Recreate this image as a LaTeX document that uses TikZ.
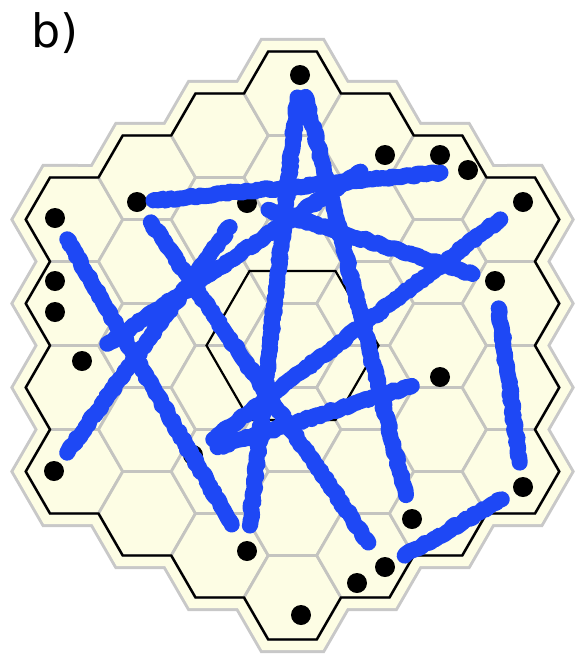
\documentclass[tikz,border=0pt]{standalone}
\usepackage{fontspec}
\setsansfont{DejaVu Sans}
\usetikzlibrary{calc,decorations.pathmorphing}

% board outline: six rotated copies of one zigzag side
\newcommand\boardpath{(94.72:6.083*\hexs)
  \foreach \k in {0,-60,...,-300}{
    -- (\k+94.72:6.083*\hexs) -- (\k+85.28:6.083*\hexs)
    -- (\k+79.11:5.2915*\hexs) -- (\k+68.95:5.568*\hexs)
    -- (\k+60:5*\hexs) -- (\k+51.05:5.568*\hexs)
    -- (\k+40.89:5.2915*\hexs)} -- cycle}

\begin{document}
\begin{tikzpicture}[x=0.5pt,y=-0.5pt,
  dot/.style={circle,fill=black,inner sep=0pt,minimum size=10pt},
  cell/.style={draw=cgrid,fill=ccell,line width=1.4pt,line join=round},
  crayon/.style={draw=cblue,line width=8pt,line cap=round,line join=round,
    decorate,decoration={random steps,segment length=1.6pt,amplitude=0.7pt}}]
\definecolor{ccell}{RGB}{253,253,228}\definecolor{cgrid}{RGB}{196,196,192}
\definecolor{crim}{RGB}{200,200,200}\definecolor{cblue}{RGB}{30,72,245}
\def\hexs{48.5}\def\hexh{84.0}
\useasboundingbox (0,0) rectangle (575,660);
\node[font=\sffamily\fontsize{23}{27}\selectfont,anchor=base west,inner sep=0pt] (lbl) at (31,47) {b)};
% ===== board: rim, cells, outline =====
\begin{scope}[shift={(292.5,345.5)}]
\draw[crim,line width=13.5pt,miter limit=4] \boardpath;
\draw[ccell,line width=10.5pt,miter limit=4] \boardpath;
\foreach \q in {-3,...,3}{
  \foreach \r in {-3,...,3}{
    \pgfmathtruncatemacro\qr{abs(\q+\r)}
    \ifnum\qr<4
      \draw[cell,shift={({1.5*\hexs*\q},{\hexh*(\r+\q/2)})}]
        (0:\hexs) -- (60:\hexs) -- (120:\hexs) -- (180:\hexs) -- (240:\hexs) -- (300:\hexs) -- cycle;
    \fi}}
\draw[black,line width=1.2pt,line join=miter] \boardpath;
% inner hexagon
\draw[black,line width=1.1pt] (0:86) -- (60:86) -- (120:86) -- (180:86) -- (240:86) -- (300:86) -- cycle;
\end{scope}
% ===== stones =====
\foreach \n/\x/\y in {d1/300/75,d2/385/155,d3/440/155,d4/468/170,d5/523/202,
  d6/55/218,d7/137/202,d8/247/203,d9/55/281,d10/55/312,d11/82/361,
  d12/440/377,d13/495/281,d14/193/455,d15/54/471,d16/523/487,d17/412/519,
  d18/247/551,d19/385/567,d20/357/583,d21/301/615}
  \node[dot] (\n) at (\x,\y) {};
% ===== crayon strokes between stones =====
\foreach \a/\b/\sa/\sb in {d7/d4/8.3/13.8,d6/d18/12.3/15.3,d7/d19/12.3/14.8,
  d15/d8/11.3/14.8,d11/d2/15.3/14.8,d1/d18/11.3/12.8,d1/d17/11.3/12.3,
  d8/d13/11.3/11.8,d5/d14/14.3/12.8,d12/d14/14.8/12.8,d13/d16/13.8/12.3,
  d16/d19/12.3/11.3}
  \draw[crayon] ($(\a)!\sa pt!(\b)$) -- ($(\b)!\sb pt!(\a)$);
\end{tikzpicture}
\end{document}
